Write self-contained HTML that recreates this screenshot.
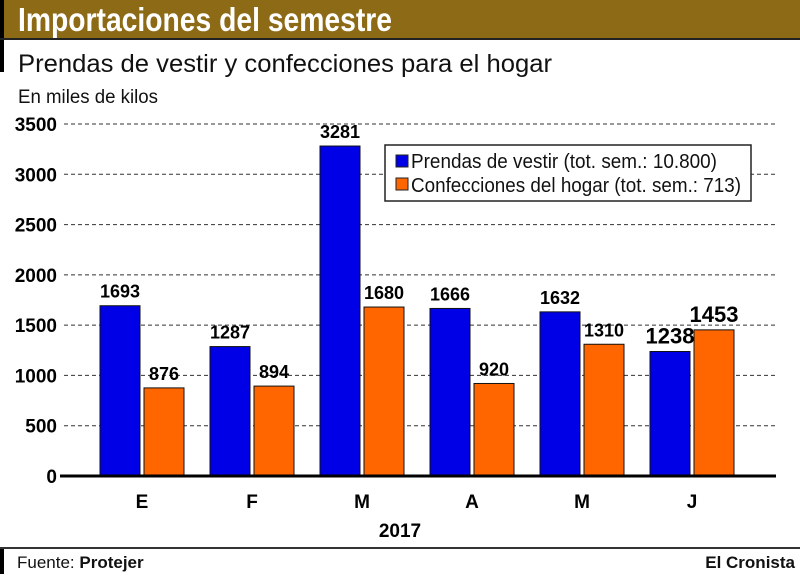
<!DOCTYPE html>
<html><head><meta charset="utf-8"><style>
body{margin:0;width:800px;height:574px;background:#fff;overflow:hidden;font-family:"Liberation Sans Narrow","Liberation Sans",sans-serif;}
</style></head><body>
<svg width="800" height="574" viewBox="0 0 800 574" xmlns="http://www.w3.org/2000/svg">
<rect x="0" y="0" width="800" height="38" fill="#8c6a16"/>
<rect x="0" y="0" width="4" height="72" fill="#000"/>
<rect x="0" y="38" width="800" height="2" fill="#222"/>
<text x="18" y="31" font-size="33" font-weight="bold" fill="#fff" textLength="374" lengthAdjust="spacingAndGlyphs">Importaciones del semestre</text>
<text x="18" y="72" font-size="25" fill="#111" textLength="534" lengthAdjust="spacingAndGlyphs">Prendas de vestir y confecciones para el hogar</text>
<text x="18" y="103" font-size="19" fill="#111" textLength="140" lengthAdjust="spacingAndGlyphs">En miles de kilos</text>
<g id="grid"></g><g id="bars"></g><g id="labels"></g>
<line x1="60" y1="476" x2="776" y2="476" stroke="#000" stroke-width="3"/>
<text x="400" y="537" font-size="19" font-weight="bold" text-anchor="middle">2017</text>
<g>
<rect x="385" y="145" width="366" height="56" fill="#fff" stroke="#222" stroke-width="1.5"/>
<rect x="396" y="155" width="12" height="12" fill="#0000e6" stroke="#222"/>
<text x="411" y="168" font-size="20" fill="#111" textLength="306" lengthAdjust="spacingAndGlyphs">Prendas de vestir (tot. sem.: 10.800)</text>
<rect x="396" y="178" width="12" height="12" fill="#ff6600" stroke="#222"/>
<text x="411" y="192" font-size="20" fill="#111" textLength="330" lengthAdjust="spacingAndGlyphs">Confecciones del hogar (tot. sem.: 713)</text>
</g>
<rect x="0" y="547" width="800" height="2" fill="#333"/>
<rect x="0" y="549" width="4" height="25" fill="#000"/>
<text x="17" y="568" font-size="17" fill="#111">Fuente: <tspan font-weight="bold">Protejer</tspan></text>
<text x="795" y="568" font-size="17" font-weight="bold" text-anchor="end" fill="#111">El Cronista</text>
</svg>
<script>
const categories=["E","F","M","A","M","J"];
const prendas=[1693,1287,3281,1666,1632,1238];
const confecciones=[876,894,1680,920,1310,1453];
const ticks=[0,500,1000,1500,2000,2500,3000,3500];
const NS="http://www.w3.org/2000/svg";
function y(v){return 476-v*(352/3500);}
function gx(i){return 100+i*110;}
function mk(t,a,p){const e=document.createElementNS(NS,t);for(const k in a)e.setAttribute(k,a[k]);p.appendChild(e);return e;}
const grid=document.getElementById('grid'),bars=document.getElementById('bars'),labels=document.getElementById('labels');
ticks.forEach(t=>{
 if(t>0){const l=mk('line',{x1:64,x2:776,y1:y(t),y2:y(t),stroke:'#333','stroke-width':1,'stroke-dasharray':'4,3'},grid);
 
 }
 const tx=mk('text',{x:57,y:y(t)+7,'font-size':19,'font-weight':'bold','text-anchor':'end'},grid);tx.textContent=t;
 
 
});
categories.forEach((c,i)=>{
 const x0=gx(i);
 const b1=mk('rect',{x:x0,y:y(prendas[i]),width:40,height:476-y(prendas[i]),fill:'#0000e6',stroke:'#111','stroke-width':1},bars);
 
 
 const b2=mk('rect',{x:x0+44,y:y(confecciones[i]),width:40,height:476-y(confecciones[i]),fill:'#ff6600',stroke:'#111','stroke-width':1},bars);
 
 
 const big=i===5;
 const l1=mk('text',{x:x0+20,y:y(prendas[i])-8,'font-size':big?22:18,'font-weight':'bold','text-anchor':'middle'},labels);l1.textContent=prendas[i];
 
 
 const l2=mk('text',{x:x0+64,y:y(confecciones[i])-8,'font-size':big?22:18,'font-weight':'bold','text-anchor':'middle'},labels);l2.textContent=confecciones[i];
 
 
 const cl=mk('text',{x:x0+42,y:508,'font-size':19,'font-weight':'bold','text-anchor':'middle'},labels);cl.textContent=c;
 
 
});
</script>
</body></html>
